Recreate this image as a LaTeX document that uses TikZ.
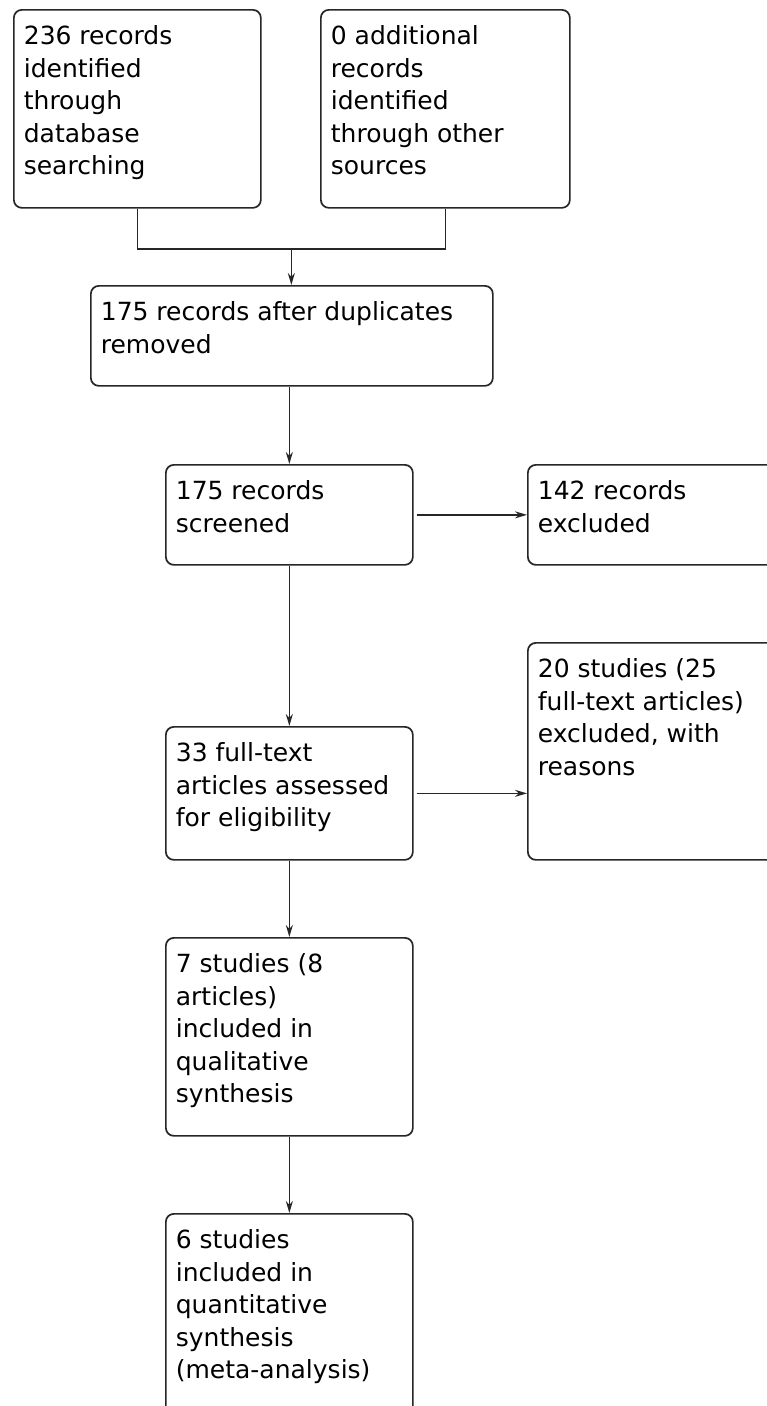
\documentclass[tikz,border=0pt]{standalone}
\usepackage{fontspec}
\setmainfont{DejaVu Sans}
\usetikzlibrary{positioning, arrows.meta, calc}
% top-left text block of fixed height and width
\newcommand{\stagetext}[3]{\parbox[t][#1][t]{#2}{\raggedright\rule{0pt}{35pt}#3}}
\tikzset{
  stage/.style={draw=black!85, line width=1.7pt, rounded corners=8pt,
    anchor=north west, inner xsep=10pt, inner ysep=0pt,
    font=\fontsize{25}{32.5}\selectfont},
  flow/.style={draw=black!85, line width=1.6pt,
    -{Stealth[length=12pt,width=7pt]}},
  joint/.style={draw=black!85, line width=1.6pt},
}
\begin{document}
\begin{tikzpicture}[x=1pt, y=1pt]
    \path[use as bounding box, clip] (0,0) rectangle (767,-1406);
    \fill[white] (0,0) rectangle (767,-1406);
    % identification
    \node[stage] (db) at (13,-9)
      {\stagetext{198pt}{227pt}{236 records\\identified\\through\\database\\searching}};
    \node[stage] (other) at (320,-9)
      {\stagetext{198pt}{229pt}{0 additional\\records\\identified\\through other\\sources}};
    \node[stage] (dedup) at (90,-285)
      {\stagetext{100pt}{382pt}{175 records after duplicates\\removed}};
    % screening
    \node[stage] (screen) at (165,-464)
      {\stagetext{100pt}{227pt}{175 records\\screened}};
    \node[stage] (excl) at (527,-464)
      {\stagetext{100pt}{250pt}{142 records\\excluded}};
    % eligibility
    \node[stage] (fulltext) at (165,-726)
      {\stagetext{133pt}{227pt}{33 full-text\\articles assessed\\for eligibility}};
    \node[stage] (reasons) at (527,-642)
      {\stagetext{217pt}{250pt}{20 studies (25\\full-text articles)\\excluded, with\\reasons}};
    % included
    \node[stage] (qual) at (165,-937)
      {\stagetext{198pt}{227pt}{7 studies (8\\articles)\\included in\\qualitative\\synthesis}};
    \node[stage] (quant) at (165,-1213)
      {\stagetext{220pt}{227pt}{6 studies\\included in\\quantitative\\synthesis\\(meta-analysis)}};

    \coordinate (merge) at ($(db.south)!0.5!(other.south) + (0,-40)$);
    \draw[joint] (db.south) |- (merge) -| (other.south);
    \draw[flow] (merge) -- (merge |- dedup.north);
    \draw[flow] (screen.north |- dedup.south) -- (screen.north);
    \draw[flow, shorten <=3pt] (screen.east) -- (excl.west);
    \draw[flow] (screen.south) -- (fulltext.north);
    \draw[flow, shorten <=3pt] (fulltext.east) -- (fulltext.east -| reasons.west);
    \draw[flow] (fulltext.south) -- (qual.north);
    \draw[flow] (qual.south) -- (quant.north);
\end{tikzpicture}
\end{document}
